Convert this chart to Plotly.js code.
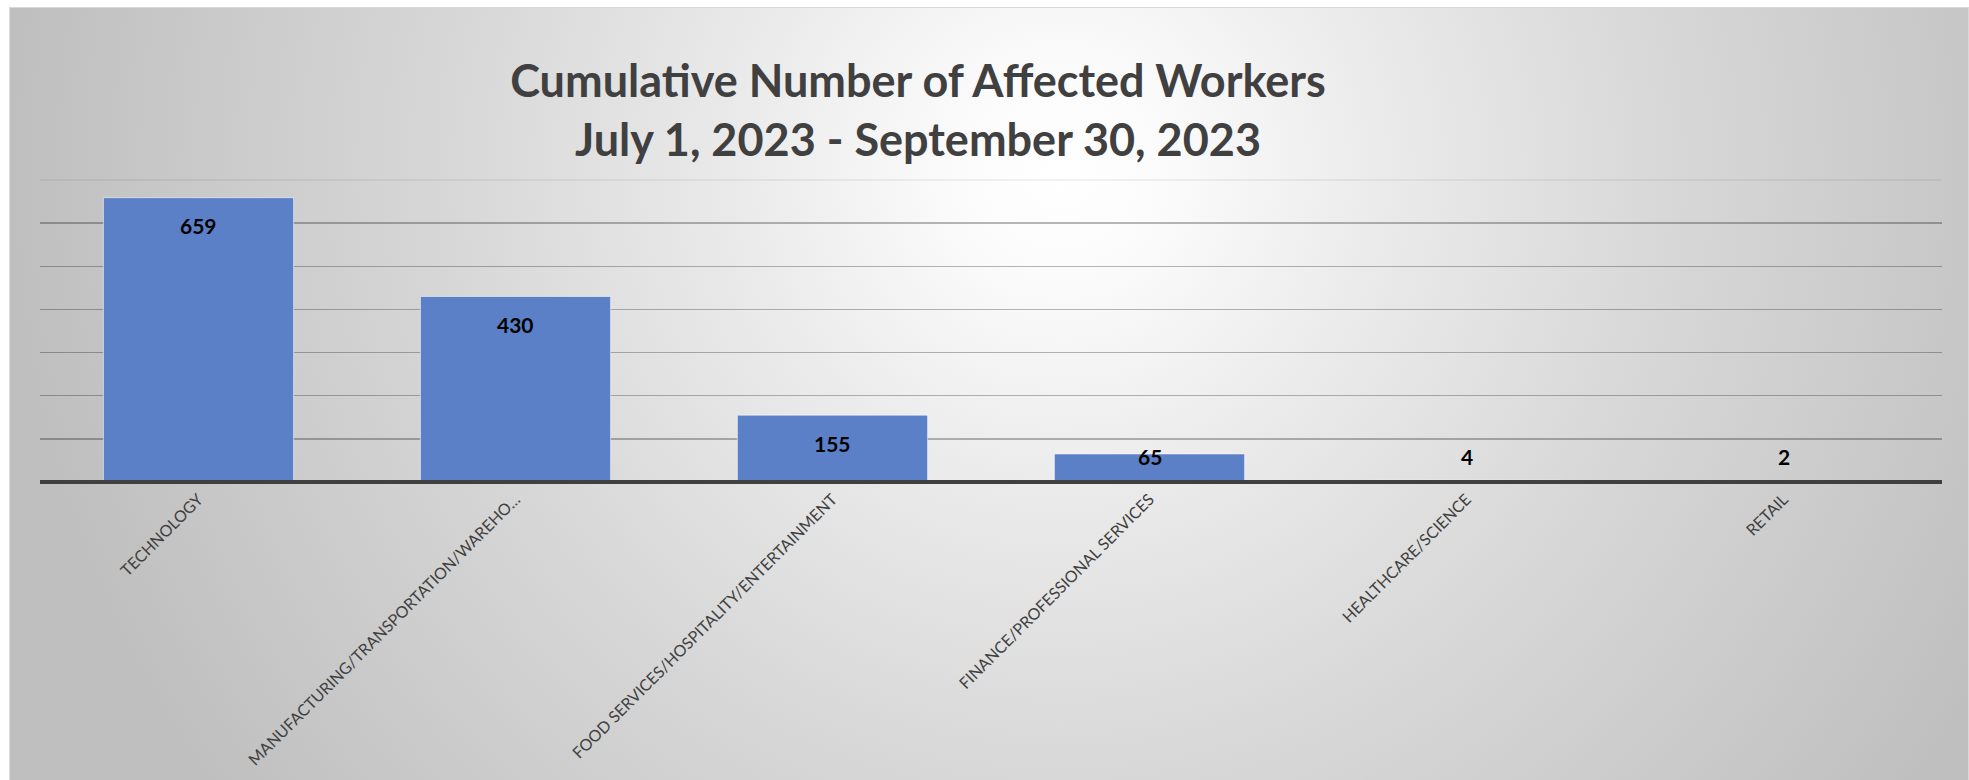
<!DOCTYPE html>
<html>
<head>
<meta charset="utf-8">
<script src="https://cdn.plot.ly/plotly-3.0.1.min.js"></script>
<style>
  html, body { margin: 0; padding: 0; width: 1969px; height: 780px; overflow: hidden; background: #ffffff; }
  #bg {
    position: absolute; left: 9px; top: 7px; width: 1960px; height: 773px;
    box-sizing: border-box;
    border-top: 1px solid #d6d6d6; border-left: 1px solid #dcdcdc; border-right: 1px solid #d9d9d9;
    background: radial-gradient(circle 1050px at 1051px 163px, #ffffff 0%, #fbfbfb 10%, #ebebeb 30%, #d8d8d8 57%, #bfbfbf 100%);
  }
  #chart { position: absolute; left: 0; top: 0; width: 1969px; height: 780px; }
</style>
</head>
<body>
<div id="bg"></div>
<div id="chart"></div>
<script>
// ---- data ----
const categories = [
  "TECHNOLOGY",
  "MANUFACTURING/TRANSPORTATION/WAREHO…",
  "FOOD SERVICES/HOSPITALITY/ENTERTAINMENT",
  "FINANCE/PROFESSIONAL SERVICES",
  "HEALTHCARE/SCIENCE",
  "RETAIL"
];
const affectedWorkers = [659, 430, 155, 65, 4, 2];
const titleLines = ["Cumulative Number of Affected Workers", "July 1, 2023 - September 30, 2023"];

// ---- layout constants ----
const W = 1969, H = 780;
const margin = { l: 40, r: 27, t: 180, b: 298, pad: 0 };
const yMax = 700;
const plotH = H - margin.t - margin.b;
const pxPerUnit = plotH / yMax;

const bars = {
  type: "bar",
  x: categories,
  y: affectedWorkers,
  marker: { color: "#5b80c7", line: { color: "rgba(255,255,255,0.55)", width: 1 } },
  hoverinfo: "x+y",
  showlegend: false
};

// data labels: inside end of bar, kept above the axis for short bars
const labelOffsetTop = 28;   // px below bar top
const labelMinAbove = 25.5;  // px above axis
const annotations = categories.map((c, i) => {
  const v = affectedWorkers[i];
  const short = v * pxPerUnit - labelOffsetTop < labelMinAbove;
  return {
    x: c, y: short ? 0 : v, xref: "x", yref: "y",
    text: String(v), showarrow: false,
    yanchor: "middle", xanchor: "center",
    yshift: short ? labelMinAbove : -labelOffsetTop,
    font: { family: "Lato, 'Open Sans', sans-serif", size: 21, color: "#000000", weight: 700 }
  };
});

const layout = {
  width: W, height: H,
  margin: margin,
  paper_bgcolor: "rgba(0,0,0,0)",
  plot_bgcolor: "rgba(0,0,0,0)",
  bargap: 0.4,
  title: {
    text: "<b>" + titleLines.join("<br>") + "</b>",
    x: 918 / W, xref: "container", xanchor: "center",
    y: 1 - 97 / H, yref: "container", yanchor: "top",
    font: { family: "Lato, 'Open Sans', sans-serif", size: 45, color: "#404040" }
  },
  xaxis: {
    type: "category",
    showline: false,
    showgrid: false, ticks: "",
    tickangle: -45,
    ticklabelstandoff: 4,
    tickfont: { family: "Lato, 'Open Sans', sans-serif", size: 16, color: "#404040" },
    fixedrange: true
  },
  yaxis: {
    range: [0, yMax - 0.01], dtick: 100, tick0: 0,
    showticklabels: false, ticks: "",
    showgrid: true, gridcolor: "rgba(0,0,0,0.28)", gridwidth: 1.5,
    zeroline: false, showline: false,
    fixedrange: true
  },
  shapes: [
    { // faint top border of plot area
      type: "line", xref: "paper", yref: "paper", x0: 0, x1: 1, y0: 1, y1: 1,
      line: { color: "rgba(0,0,0,0.07)", width: 1.5 }, layer: "below"
    },
    { // category axis line, drawn over the bars' base
      type: "line", xref: "paper", yref: "paper", x0: 0, x1: 1, y0: 0, y1: 0,
      line: { color: "#404040", width: 4 }, layer: "above"
    }
  ],
  annotations: annotations
};

Plotly.newPlot("chart", [bars], layout, { displayModeBar: false, staticPlot: true });
</script>
</body>
</html>
